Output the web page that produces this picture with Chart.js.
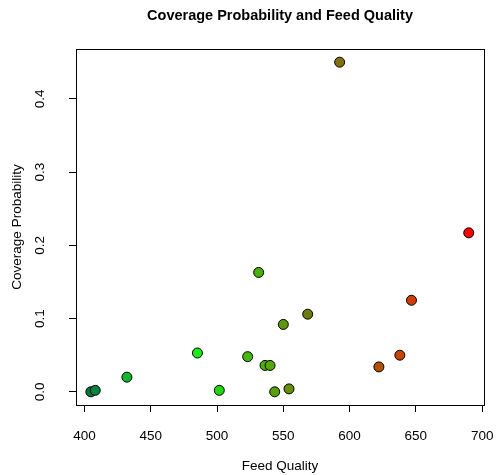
<!DOCTYPE html>
<html>
<head>
<meta charset="utf-8">
<script src="https://cdn.jsdelivr.net/npm/chart.js@4"></script>
<style>
  html, body { margin: 0; padding: 0; background: #fff; }
  #wrap { width: 496px; height: 475px; }
</style>
</head>
<body>
<div id="wrap"><canvas id="chart" width="496" height="475"></canvas></div>
<script>
// ===== Datos =====
const feedQuality = [404.8, 408.1, 432, 485.2, 501.7, 523.1, 531.4, 536.2, 540, 543.5, 550, 554.3, 568.4, 592.5, 622.1, 637.9, 646.7, 689.9];
const coverageProb = [0.000, 0.002, 0.020, 0.053, 0.002, 0.048, 0.163, 0.036, 0.036, 0.000, 0.092, 0.004, 0.106, 0.450, 0.034, 0.050, 0.125, 0.217];
const pointColors = [
    'rgb(0,122,60)', 'rgb(0,132,66)', 'rgb(16,184,44)', 'rgb(24,236,20)', 'rgb(34,214,12)',
    'rgb(68,186,10)', 'rgb(72,176,10)', 'rgb(80,174,10)', 'rgb(86,168,10)', 'rgb(88,160,10)',
    'rgb(96,150,10)', 'rgb(100,144,10)', 'rgb(110,124,10)', 'rgb(130,110,10)', 'rgb(178,82,0)',
    'rgb(200,66,0)', 'rgb(206,60,0)', 'rgb(255,0,0)'
];
const xTicks = [400, 450, 500, 550, 600, 650, 700];
const yTicks = [0.0, 0.1, 0.2, 0.3, 0.4];
const yTickLabels = ['0.0', '0.1', '0.2', '0.3', '0.4'];

const FONT = '"Liberation Sans", Arial, sans-serif';

// Caja, etiquetas y títulos al estilo R
const rStylePlugin = {
    id: 'rStyle',
    afterDraw(chart) {
        const ctx = chart.ctx;
        const a = chart.chartArea;
        const xs = chart.scales.x;
        const ys = chart.scales.y;
        ctx.save();
        ctx.strokeStyle = '#000';
        ctx.lineWidth = 1;
        ctx.strokeRect(Math.round(a.left) + 0.5, Math.round(a.top) + 0.5,
            Math.round(a.right - a.left), Math.round(a.bottom - a.top));

        ctx.fillStyle = '#000';
        ctx.font = '13.5px ' + FONT;
        ctx.textAlign = 'center';
        ctx.textBaseline = 'middle';
        xTicks.forEach(v => {
            ctx.fillText(String(v), xs.getPixelForValue(v), 436);
        });
        yTicks.forEach((v, i) => {
            ctx.save();
            ctx.translate(40, ys.getPixelForValue(v));
            ctx.rotate(-Math.PI / 2);
            ctx.fillText(yTickLabels[i], 0, 0);
            ctx.restore();
        });

        // Títulos de ejes
        const cx = (a.left + a.right) / 2;
        const cy = (a.top + a.bottom) / 2;
        ctx.fillText('Feed Quality', cx, 466);
        ctx.save();
        ctx.translate(17, cy);
        ctx.rotate(-Math.PI / 2);
        ctx.fillText('Coverage Probability', 0, 0);
        ctx.restore();

        // Título principal
        ctx.font = 'bold 14.5px ' + FONT;
        ctx.fillText('Coverage Probability and Feed Quality', cx, 16);
        ctx.restore();
    }
};

const ctx = document.getElementById('chart');
new Chart(ctx, {
    type: 'scatter',
    data: {
        datasets: [{
            data: feedQuality.map((x, i) => ({ x: x, y: coverageProb[i] })),
            backgroundColor: pointColors,
            borderColor: '#000',
            borderWidth: 1,
            pointRadius: 5,
            pointHoverRadius: 5
        }]
    },
    options: {
        responsive: false,
        animation: false,
        events: [],
        layout: {
            padding: { top: 49, right: 12, left: 0, bottom: 0 }
        },
        plugins: {
            legend: { display: false },
            title: { display: false },
            tooltip: { enabled: false }
        },
        scales: {
            x: {
                type: 'linear',
                min: 393.6,
                max: 701.4,
                afterBuildTicks: s => { s.ticks = xTicks.map(v => ({ value: v })); },
                afterFit: s => { s.height = 70; },
                ticks: { display: false },
                grid: {
                    drawOnChartArea: false,
                    drawTicks: true,
                    tickLength: 7,
                    color: '#000'
                },
                border: { display: true, color: '#000' }
            },
            y: {
                type: 'linear',
                min: -0.018,
                max: 0.468,
                afterBuildTicks: s => { s.ticks = yTicks.map(v => ({ value: v })); },
                afterFit: s => { s.width = 76; },
                ticks: { display: false },
                grid: {
                    drawOnChartArea: false,
                    drawTicks: true,
                    tickLength: 7,
                    color: '#000'
                },
                border: { display: true, color: '#000' }
            }
        }
    },
    plugins: [rStylePlugin]
});
</script>
</body>
</html>
